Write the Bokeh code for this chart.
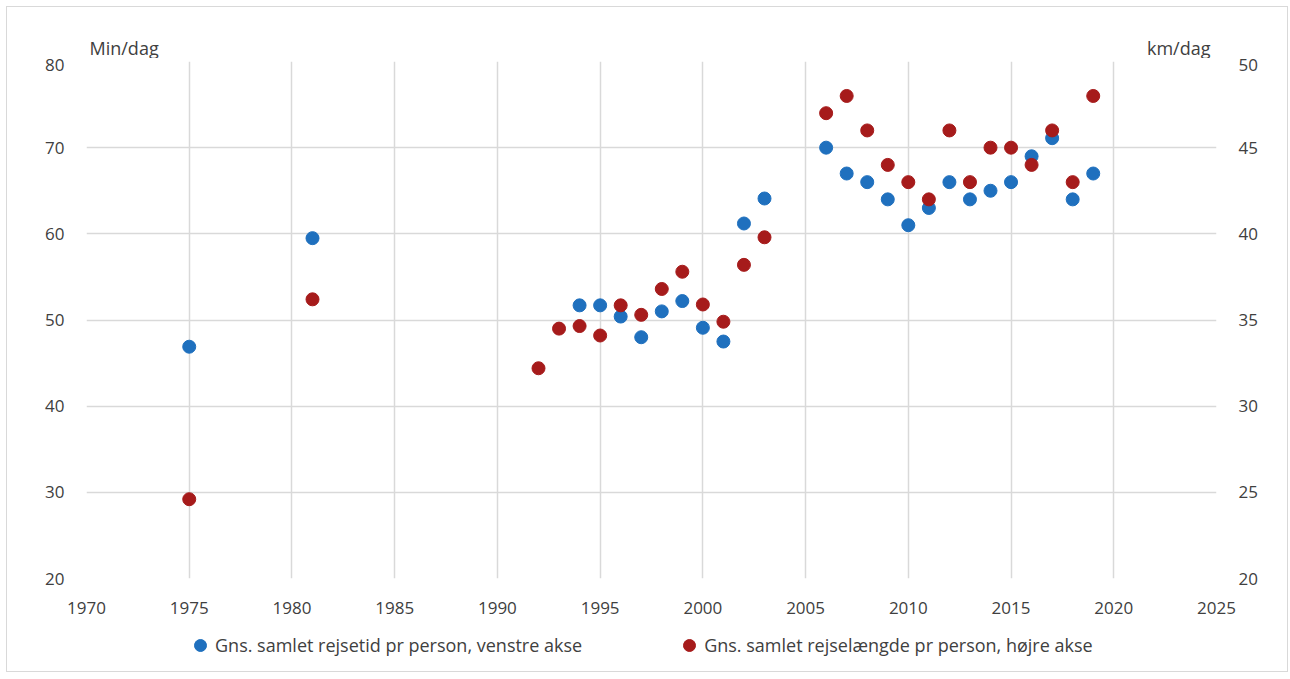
from bokeh.plotting import figure
from bokeh.models import Range1d, LinearAxis, FixedTicker, Legend, LegendItem, Label
from bokeh.layouts import column
from bokeh.embed import file_html
from bokeh.resources import INLINE

# Data
years_time = [1975, 1981, 1994, 1995, 1996, 1997, 1998, 1999, 2000, 2001, 2002, 2003,
              2006, 2007, 2008, 2009, 2010, 2011, 2012, 2013, 2014, 2015, 2016, 2017, 2018, 2019]
time_min = [46.9, 59.5, 51.7, 51.7, 50.4, 48.0, 51.0, 52.2, 49.1, 47.5, 61.2, 64.1,
            70.0, 67.0, 66.0, 64.0, 61.0, 63.0, 66.0, 64.0, 65.0, 66.0, 69.0, 71.1, 64.0, 67.0]

years_dist = [1975, 1981, 1992, 1993, 1994, 1995, 1996, 1997, 1998, 1999, 2000, 2001, 2002, 2003,
              2006, 2007, 2008, 2009, 2010, 2011, 2012, 2013, 2014, 2015, 2016, 2017, 2018, 2019]
dist_km = [24.6, 36.2, 32.2, 34.5, 34.65, 34.1, 35.85, 35.3, 36.8, 37.8, 35.9, 34.9, 38.2, 39.8,
           47.0, 48.0, 46.0, 44.0, 43.0, 42.0, 46.0, 43.0, 45.0, 45.0, 44.0, 46.0, 43.0, 48.0]

x_ticks = [1970, 1975, 1980, 1985, 1990, 1995, 2000, 2005, 2010, 2015, 2020, 2025]
left_ticks = [20, 30, 40, 50, 60, 70, 80]
right_ticks = [20, 25, 30, 35, 40, 45, 50]

label_time = "Gns. samlet rejsetid pr person, venstre akse"
label_dist = "Gns. samlet rejselængde pr person, højre akse"
left_unit = "Min/dag"
right_unit = "km/dag"

BLUE = "#1F70BE"
RED = "#A61B1B"
GRID = "#D9D9D9"
TXT = "#404040"
FONT = "Open Sans"
FS = "17px"
FW = 1130
BL, BR = 79, 71


def strip(height):
    f = figure(frame_width=FW, frame_height=height, output_backend="svg", toolbar_location=None,
               x_range=Range1d(0, FW), y_range=Range1d(0, height),
               x_axis_location=None, y_axis_location=None,
               min_border_left=BL, min_border_right=BR,
               min_border_top=0, min_border_bottom=0)
    f.grid.visible = False
    f.outline_line_color = None
    f.background_fill_color = "white"
    f.border_fill_color = "white"
    return f


# --- unit labels strip ---
top = strip(51)
top.add_layout(Label(x=3, y=11, text=left_unit, text_baseline="alphabetic",
                     text_font=FONT, text_font_size="18px", text_color=TXT))
top.add_layout(Label(x=FW - 6, y=11, text=right_unit, text_align="right",
                     text_baseline="alphabetic", text_font=FONT,
                     text_font_size="18px", text_color=TXT))

# --- main chart ---
p = figure(frame_width=FW, frame_height=517, output_backend="svg", toolbar_location=None,
           x_range=Range1d(1970, 2025), y_range=Range1d(20, 80),
           min_border_left=BL, min_border_right=BR, min_border_top=3, min_border_bottom=45)
p.extra_y_ranges = {"km": Range1d(20, 50)}
p.outline_line_color = None
p.background_fill_color = "white"
p.border_fill_color = "white"

p.xaxis.ticker = FixedTicker(ticks=x_ticks)
p.yaxis.ticker = FixedTicker(ticks=left_ticks)

right = LinearAxis(y_range_name="km", ticker=FixedTicker(ticks=right_ticks))
p.add_layout(right, "right")

for ax in [p.xaxis[0], p.yaxis[0], right]:
    ax.axis_line_color = None
    ax.major_tick_line_color = None
    ax.minor_tick_line_color = None
    ax.major_label_text_font = FONT
    ax.major_label_text_font_size = FS
    ax.major_label_text_color = TXT
p.xaxis.major_label_standoff = 17
p.yaxis[0].major_label_standoff = 16
right.major_label_standoff = 16

p.xgrid.ticker = FixedTicker(ticks=x_ticks)
p.ygrid.ticker = FixedTicker(ticks=left_ticks)
for g in [p.xgrid[0], p.ygrid[0]]:
    g.grid_line_color = GRID
    g.grid_line_width = 1.5

p.scatter(years_time, time_min, size=13, color=BLUE, line_color=BLUE)
p.scatter(years_dist, dist_km, size=13, color=RED, line_color=RED, y_range_name="km")

# --- legend strip (its own copies of the series lie outside this strip's ranges) ---
bot = strip(48)
k1 = bot.scatter(years_time, time_min, size=13, color=BLUE, line_color=BLUE)
k2 = bot.scatter(years_dist, dist_km, size=13, color=RED, line_color=RED)
legend = Legend(items=[LegendItem(label=label_time, renderers=[k1]),
                       LegendItem(label=label_dist, renderers=[k2])],
                orientation="horizontal", location=(99, 11),
                label_text_font=FONT, label_text_font_size="18px", label_text_color=TXT,
                border_line_color=None, background_fill_alpha=0,
                glyph_width=30, glyph_height=30, label_standoff=0, spacing=92,
                margin=0, padding=0)
bot.add_layout(legend, "center")

layout = column(top, p, bot, spacing=0, margin=(6, 0, 0, 6),
                styles={"border": "1px solid #D9D9D9"})

open("out.html", "w").write(file_html(layout, INLINE))
